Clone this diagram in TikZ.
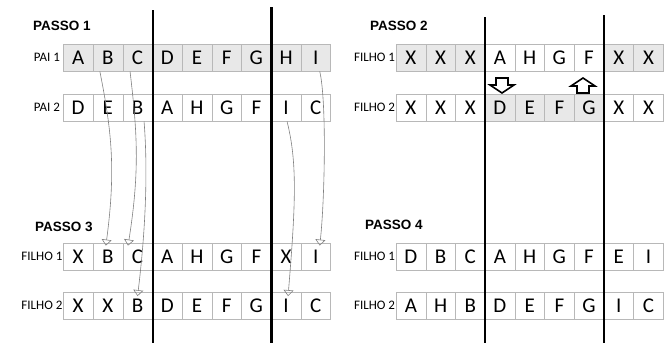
\documentclass[tikz,border=0pt]{standalone}
\usepackage{fontspec}
\usepackage{tikz}
\usetikzlibrary{positioning,arrows.meta}

\newfontfamily\cellfont{Carlito}
\newfontfamily\headfont{Liberation Sans}

\begin{document}
\begin{tikzpicture}[
        x=1pt,
        y=-1pt,
        every node/.style={inner sep=0pt},
        cell/.style={
            rectangle,
            draw=black!28,
            minimum width=29.7pt,
            minimum height=27pt,
            font=\cellfont\fontsize{21}{21}\selectfont
        },
        rowlabel/.style={
            font=\cellfont\fontsize{13}{13}\selectfont
        },
        passo/.style={
            anchor=west,
            font=\headfont\bfseries\fontsize{13.5}{13.5}\selectfont
        },
        cut/.style={
            line width=2.2pt
        },
        conn/.style={
            draw=black!50,
            line width=0.6pt,
            -{Triangle[open,width=10pt,length=6pt]}
        },
        swap/.style={
            draw=black,
            line width=1.6pt,
            fill=white,
            line join=miter
        }
    ]
    \useasboundingbox (0,0) rectangle (665,343);

    % passo 1
    \node[passo] (t1) at (33,26) {PASSO 1};
    \foreach \l [count=\i] in {A,B,C,D,E,F,G,H,I}
        \node[cell, fill=black!9] (p1a-\i) at (63.3+29.7*\i-14.85,57.7) {\l};
    \foreach \l [count=\i] in {D,E,B,A,H,G,F,I,C}
        \node[cell] (p1b-\i) at (63.3+29.7*\i-14.85,107.7) {\l};
    \node[rowlabel, left=3pt of p1a-1] (lp1a) {PAI 1};
    \node[rowlabel, left=3pt of p1b-1] (lp1b) {PAI 2};

    % passo 2
    \node[passo] (t2) at (370,26) {PASSO 2};
    \foreach \l/\f [count=\i] in {X/black!9,X/black!9,X/black!9,A/white,H/white,G/white,F/white,X/black!9,X/black!9}
        \node[cell, fill=\f] (p2a-\i) at (396+29.7*\i-14.85,57.7) {\l};
    \foreach \l/\f [count=\i] in {X/white,X/white,X/white,D/black!9,E/black!9,F/black!9,G/black!9,X/white,X/white}
        \node[cell, fill=\f] (p2b-\i) at (396+29.7*\i-14.85,107.7) {\l};
    \node[rowlabel, left=0.5pt of p2a-1] (lp2a) {FILHO 1};
    \node[rowlabel, left=0.5pt of p2b-1] (lp2b) {FILHO 2};

    % passo 3
    \node[passo] (t3) at (35,227) {PASSO 3};
    \foreach \l [count=\i] in {X,B,C,A,H,G,F,X,I}
        \node[cell] (p3a-\i) at (63.3+29.7*\i-14.85,256.3) {\l};
    \foreach \l [count=\i] in {X,X,B,D,E,F,G,I,C}
        \node[cell] (p3b-\i) at (63.3+29.7*\i-14.85,305.8) {\l};
    \node[rowlabel, left=0.5pt of p3a-1] (lp3a) {FILHO 1};
    \node[rowlabel, left=0.5pt of p3b-1] (lp3b) {FILHO 2};

    % passo 4
    \node[passo] (t4) at (365,225) {PASSO 4};
    \foreach \l [count=\i] in {D,B,C,A,H,G,F,E,I}
        \node[cell] (p4a-\i) at (396+29.7*\i-14.85,256.3) {\l};
    \foreach \l [count=\i] in {A,H,B,D,E,F,G,I,C}
        \node[cell] (p4b-\i) at (396+29.7*\i-14.85,305.8) {\l};
    \node[rowlabel, left=0.5pt of p4a-1] (lp4a) {FILHO 1};
    \node[rowlabel, left=0.5pt of p4b-1] (lp4b) {FILHO 2};

    % cut points
    \draw[cut] (p1a-3.east |- 0,10) -- (p1a-3.east |- 0,343);
    \draw[cut] (p1a-7.east |- 0,7) -- (p1a-7.east |- 0,343);
    \draw[cut] (p2a-3.east |- 0,17) -- (p2a-3.east |- 0,343);
    \draw[cut] (p2a-7.east |- 0,15) -- (p2a-7.east |- 0,343);

    % swap arrows
    \draw[swap] (496,78) -- (508,78) -- (508,85) -- (514,85) -- (502,93)
        -- (490,85) -- (496,85) -- cycle;
    \draw[swap] (577,93) -- (589,93) -- (589,86) -- (595,86) -- (583,78)
        -- (571,86) -- (577,86) -- cycle;

    % copied genes
    \draw[conn] ([xshift=-8pt]p1a-2.south) .. controls +(12,60) and +(10,-75) .. ([xshift=-2pt,yshift=-3pt]p3a-2.north);
    \draw[conn] ([xshift=-7.5pt]p1a-3.south) .. controls +(7,60) and +(12,-76) .. ([xshift=-9.5pt,yshift=-3pt]p3a-3.north);
    \draw[conn] ([xshift=6.5pt]p1b-3.south) .. controls +(4,50) and +(8,-66) .. ([yshift=-4pt]p3b-3.north);
    \draw[conn] ([xshift=1pt]p1b-8.south) .. controls +(10,40) and +(8,-96) .. ([xshift=2pt,yshift=-4pt]p3b-8.north);
    \draw[conn] ([xshift=4pt]p1a-9.south) .. controls +(7,30) and +(5,-46) .. ([xshift=4pt,yshift=-3pt]p3a-9.north);

\end{tikzpicture}
\end{document}
